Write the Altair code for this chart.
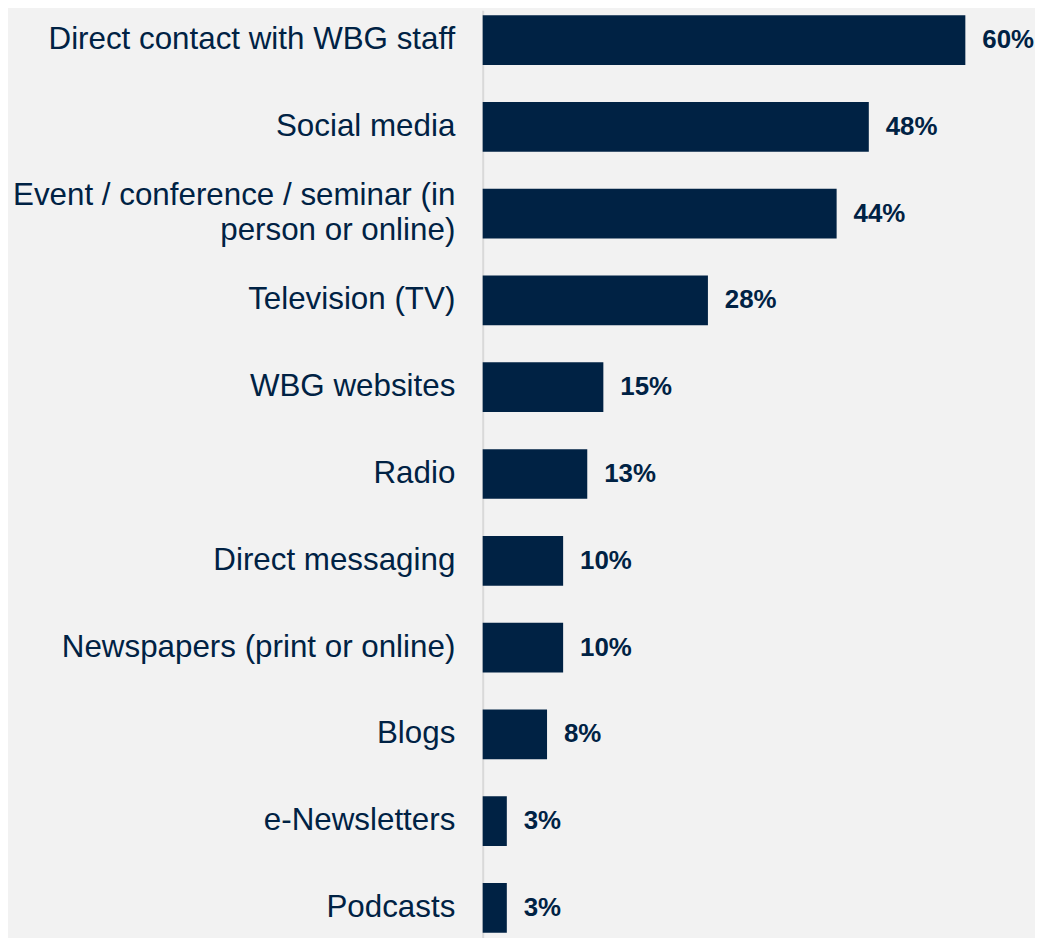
import altair as alt
import pandas as pd

categories = [
    "Direct contact with WBG staff",
    "Social media",
    "Event / conference / seminar (in person or online)",
    "Television (TV)",
    "WBG websites",
    "Radio",
    "Direct messaging",
    "Newspapers (print or online)",
    "Blogs",
    "e-Newsletters",
    "Podcasts",
]
values = [60, 48, 44, 28, 15, 13, 10, 10, 8, 3, 3]
value_labels = ["60%", "48%", "44%", "28%", "15%", "13%", "10%", "10%", "8%", "3%", "3%"]

df = pd.DataFrame({"category": categories, "value": values, "label": value_labels})

NAVY = "#002244"
LONG = "Event / conference / seminar (in person or online)"

y_enc = alt.Y(
    "category:N",
    sort=categories,
    scale=alt.Scale(paddingInner=0.427, paddingOuter=0.057),
    axis=alt.Axis(
        title=None,
        ticks=False,
        grid=False,
        domain=True,
        domainColor="#d9d9d9",
        domainWidth=2,
        labelFont="Liberation Sans",
        labelFontSize=31.5,
        labelColor=NAVY,
        labelPadding=28,
        labelLimit=0,
        labelLineHeight=35,
        labelOffset={"condition": {"test": f"datum.value == '{LONG}'", "value": -17.5}, "value": 0},
        labelExpr=f"datum.label == '{LONG}' ? ['Event / conference / seminar (in', 'person or online)'] : datum.label",
    ),
)

x_enc = alt.X(
    "value:Q",
    scale=alt.Scale(domain=[0, 60], nice=False, zero=True),
    axis=None,
)

bars = alt.Chart(df).mark_bar(color=NAVY).encode(x=x_enc, y=y_enc)

text = alt.Chart(df).mark_text(
    align="left",
    baseline="middle",
    dx=17,
    font="Liberation Sans",
    fontSize=26,
    fontWeight="bold",
    color=NAVY,
).encode(x=x_enc, y=alt.Y("category:N", sort=categories), text="label:N")

chart = (
    alt.layer(bars, text)
    .properties(
        width=485,
        height=932,
        background="#f2f2f2",
        autosize=alt.AutoSizeParams(type="none"),
        padding={"left": 477, "top": 0, "right": 70, "bottom": 0},
    )
    .configure_view(stroke=None)
)

chart.save("out.html", embed_options={"renderer": "svg", "actions": False})
